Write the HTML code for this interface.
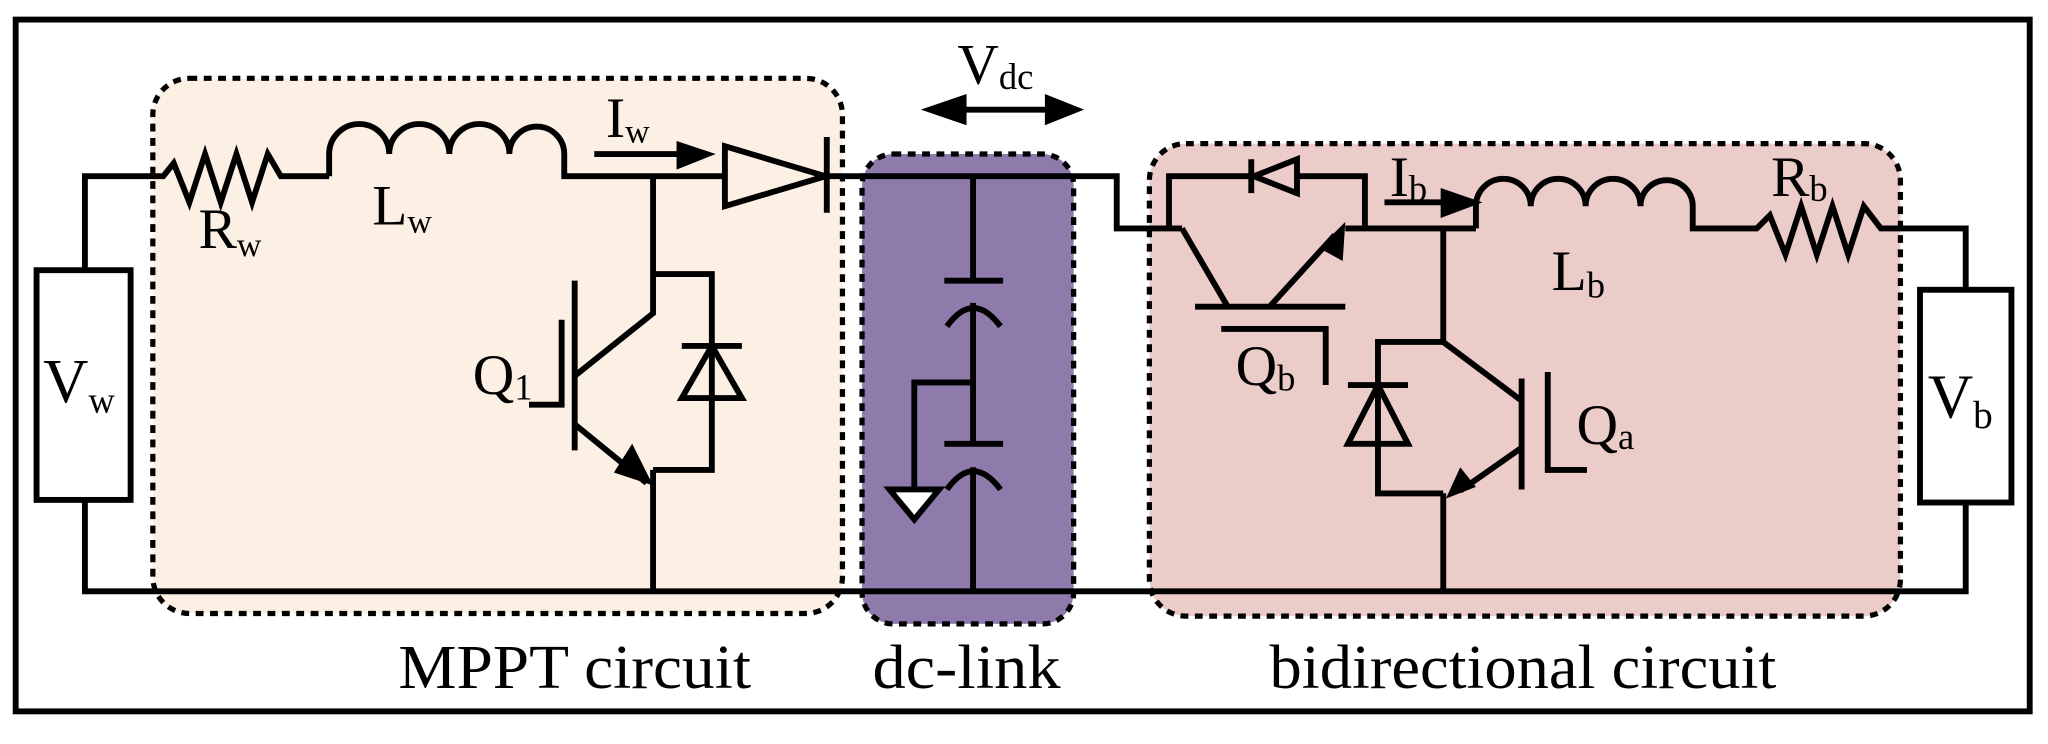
<!DOCTYPE html>
<html><head><meta charset="utf-8"><style>
html,body{margin:0;padding:0;background:#fff;}
svg{display:block;}
text{font-family:"Liberation Serif",serif;fill:#000;}
</style></head><body>
<svg width="2048" height="744" viewBox="0 0 1568 570" preserveAspectRatio="none" xmlns="http://www.w3.org/2000/svg">
<rect x="12" y="15" width="1542" height="530" fill="#fff" stroke="#000" stroke-width="4.5"/>
<!-- boxes -->
<rect x="117" y="60" width="528" height="410" rx="28" fill="#fcefe4" stroke="#000" stroke-width="4" stroke-dasharray="6,5"/>
<rect x="660" y="118" width="162" height="360" rx="24" fill="#8f7bab" stroke="#000" stroke-width="4" stroke-dasharray="6,5"/>
<rect x="880" y="110" width="575" height="362" rx="28" fill="#ecccc9" stroke="#000" stroke-width="4" stroke-dasharray="6,5"/>
<g fill="none" stroke="#000" stroke-width="4.5" stroke-linejoin="miter">
<path d="M65,207 V135 H125 L133,125 L145,155 L157,118 L169,155 L181,118 L193,155 L205,118 L215,135 H252"/>
<path d="M252,135 V118 A23,23 0 0 1 298,118 A23,23 0 0 1 344,118 A23,23 0 0 1 390,118 A21,21 0 0 1 432,118 V135 H555"/>
<rect x="28" y="207" width="72" height="176" fill="#fff"/>
<path d="M65,383 V453 H1505 V385"/>
<path d="M555,112 L632,135 L555,158 Z"/>
<path d="M633,105 V163"/>
<path d="M633,135 H855 V175 H905"/>
<path d="M500,135 V240 L440,288"/>
<path d="M440,325 L495,370"/>
<path d="M500,360 V453"/>
<path d="M440,215 V345"/>
<path d="M430,245 V310 H405"/>
<path d="M500,210 H545 V360 H500"/>
<path d="M522,265 H568"/>
<path d="M545,265 L568,305 H522 Z"/>
<path d="M455,118 H533"/>
<path d="M745,135 V215"/>
<path d="M723,215 H768"/>
<path d="M725,250 Q745,222 766,250"/>
<path d="M745,232 V340"/>
<path d="M745,293 H700 V375"/>
<path d="M681,375 H719 L700,398 Z" fill="#fff"/>
<path d="M723,340 H768"/>
<path d="M725,375 Q745,347 766,375"/>
<path d="M745,358 V453"/>
<path d="M718,84 H816"/>
<path d="M895,175 V135 H958 M993,135 H1045 V175"/>
<path d="M958,122 V148"/>
<path d="M993,122 L960,135 L993,148 Z"/>
<path d="M905,175 L940,235"/>
<path d="M915,235 H1030"/>
<path d="M972,235 L1022,180"/>
<path d="M1030,175 H1130"/>
<path d="M935,252 H1015 V295"/>
<path d="M1060,155 H1120"/>
<path d="M1130,175 V158 A21,21 0 0 1 1172,158 A21,21 0 0 1 1214,158 A21,21 0 0 1 1256,158 A20,20 0 0 1 1296,158 V175 H1345 L1355,165 L1367,195 L1379,158 L1391,195 L1403,158 L1415,195 L1427,158 L1440,175 H1505 V222"/>
<rect x="1470" y="222" width="70" height="163" fill="#fff"/>
<path d="M1105,175 V262 L1165,307"/>
<path d="M1165,290 V375"/>
<path d="M1185,285 V360 H1215"/>
<path d="M1165,343 L1118,376"/>
<path d="M1105,378 V453"/>
<path d="M1105,262 H1055 V378 H1105"/>
<path d="M1032,295 H1078"/>
<path d="M1055,295 L1078,340 H1032 Z"/>
</g>
<path d="M518,108 L548,118 L518,130 Z"/>
<path d="M740,72 L705,84 L740,96 Z"/>
<path d="M800,72 L830,84 L800,96 Z"/>
<path d="M1103,144 L1135,155 L1103,167 Z"/>
<path d="M1030,170 L1028,200 L1010,190 Z"/>
<path d="M1107,382 L1118,358 L1130,373 Z"/>
<path d="M484,340 L500,372 L470,362 Z"/>
<text x="33" y="308" font-size="48">V<tspan font-size="28" dy="8">w</tspan></text>
<text x="152" y="190" font-size="44">R<tspan font-size="26" dy="6">w</tspan></text>
<text x="285" y="172" font-size="44">L<tspan font-size="26" dy="6">w</tspan></text>
<text x="464" y="105" font-size="44">I<tspan font-size="26" dy="4">w</tspan></text>
<text x="362" y="302" font-size="44">Q<tspan font-size="28" dy="4">1</tspan></text>
<text x="733" y="64" font-size="44">V<tspan font-size="28" dy="4">dc</tspan></text>
<text x="1064" y="150" font-size="44">I<tspan font-size="28" dy="4">b</tspan></text>
<text x="1188" y="222" font-size="44">L<tspan font-size="28" dy="6">b</tspan></text>
<text x="1356" y="150" font-size="44">R<tspan font-size="28" dy="4">b</tspan></text>
<text x="946" y="295" font-size="44">Q<tspan font-size="28" dy="4">b</tspan></text>
<text x="1207" y="340" font-size="44">Q<tspan font-size="28" dy="4">a</tspan></text>
<text x="1476" y="320" font-size="48">V<tspan font-size="30" dy="8">b</tspan></text>
<text x="305" y="527" font-size="48" textLength="270" lengthAdjust="spacingAndGlyphs">MPPT circuit</text>
<text x="668" y="527" font-size="48" textLength="144" lengthAdjust="spacingAndGlyphs">dc-link</text>
<text x="972" y="527" font-size="48" textLength="388" lengthAdjust="spacingAndGlyphs">bidirectional circuit</text>
</svg>
</body></html>
